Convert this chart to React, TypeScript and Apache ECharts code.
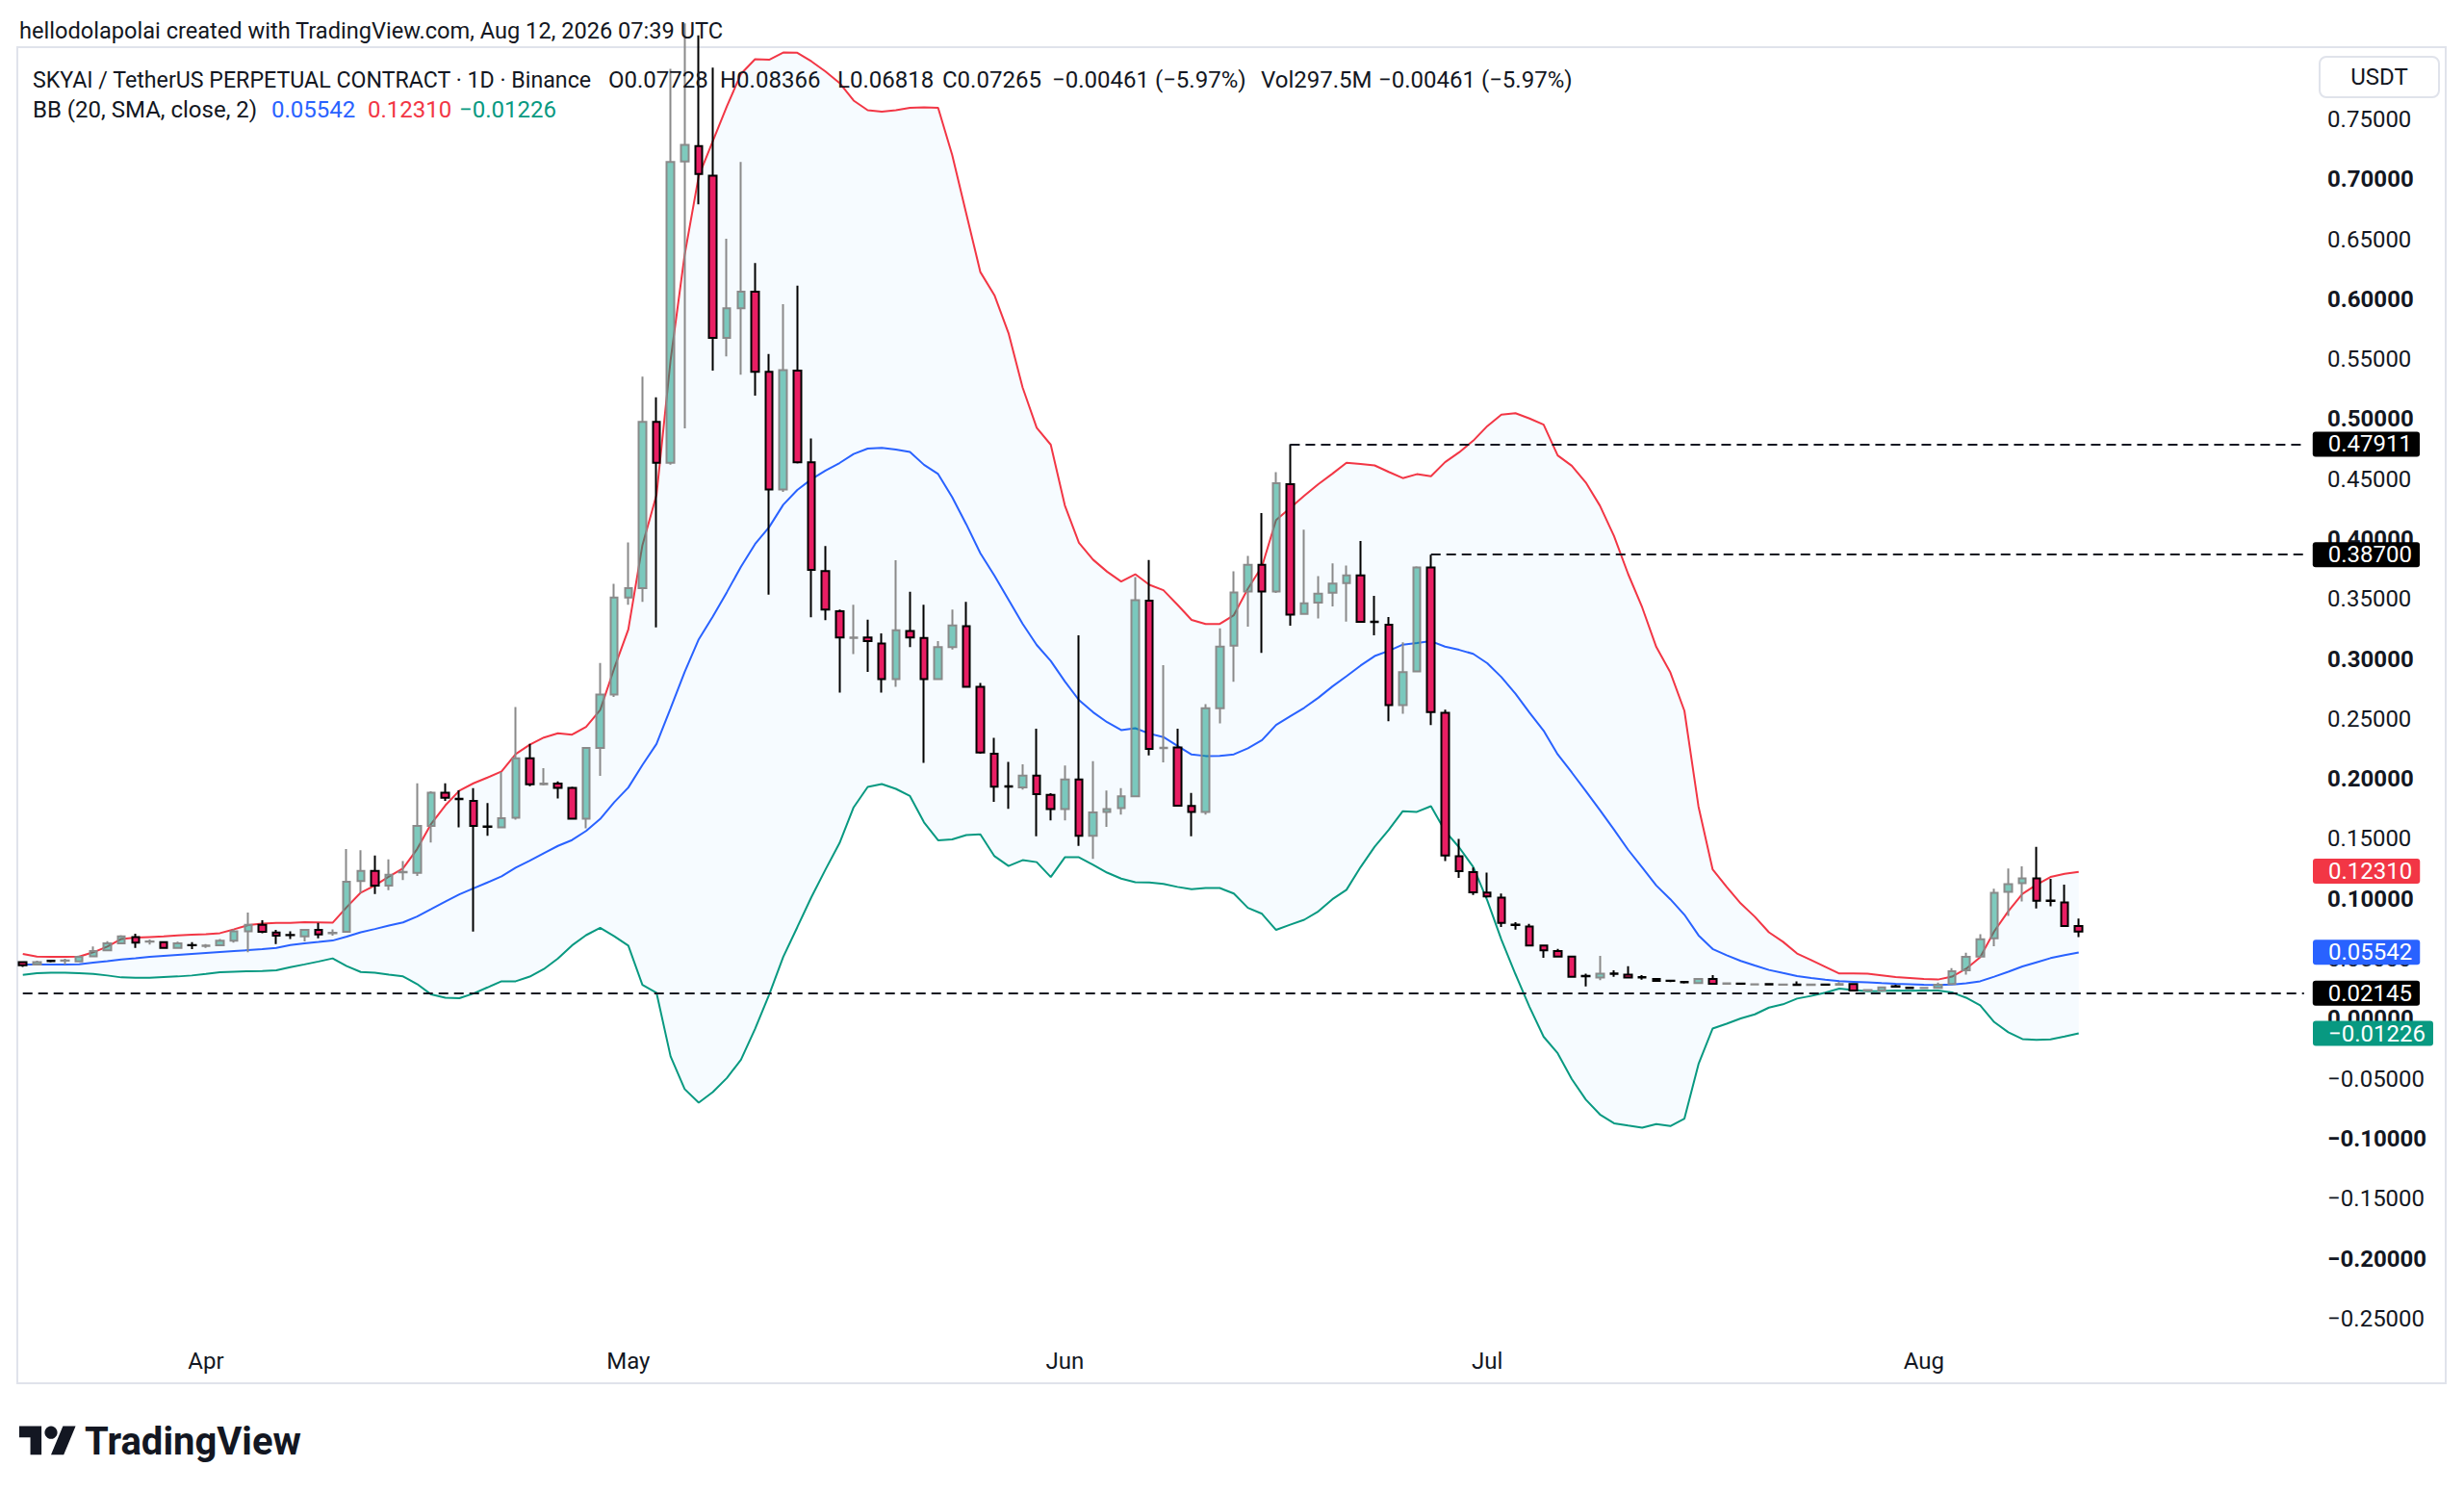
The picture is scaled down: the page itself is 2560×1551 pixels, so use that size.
import React, { useEffect, useRef } from "react";
import * as echarts from "echarts";

// ---------- DATA ----------
const START_UTC = Date.UTC(2026, 2, 19); // first candle: 2026-03-19
const SLOT_COUNT = 163; // daily slots incl. empty right margin
const monthNames = ["Jan", "Feb", "Mar", "Apr", "May", "Jun", "Jul", "Aug", "Sep", "Oct", "Nov", "Dec"];

const opens = [
  0.0473, 0.0452, 0.0485, 0.0484, 0.0479, 0.0521, 0.0570, 0.0629, 0.0682, 0.0642, 0.0639, 0.0591, 0.0615,
  0.0607, 0.0612, 0.0650, 0.0730, 0.0784, 0.0720, 0.0700, 0.0687, 0.0741, 0.0714, 0.0725, 0.1148, 0.1233, 0.1110, 0.1220,
  0.1217, 0.1608, 0.1886, 0.1835, 0.1817, 0.1605, 0.1597, 0.1677, 0.2173, 0.1955, 0.1962, 0.1926, 0.1668, 0.2258, 0.2704,
  0.3512, 0.3591, 0.4978, 0.4637, 0.7149, 0.7278, 0.7030, 0.5677, 0.5925, 0.6064, 0.5395, 0.4413, 0.5404, 0.4641, 0.3734,
  0.3398, 0.3175, 0.3179, 0.3130, 0.2833, 0.3234, 0.3175, 0.2833, 0.3100, 0.3274, 0.2768, 0.2210, 0.1940, 0.1929, 0.2028,
  0.1868, 0.1748, 0.1996, 0.1526, 0.1724, 0.1756, 0.1855, 0.3486, 0.2256, 0.2263, 0.1775, 0.1724, 0.2589, 0.3112, 0.3563,
  0.3785, 0.3563, 0.4457, 0.3376, 0.3470, 0.3553, 0.3633, 0.3697, 0.3312, 0.3286, 0.2616, 0.2896, 0.3763, 0.2551, 0.1356,
  0.1222, 0.1053, 0.1011, 0.0786, 0.0770, 0.0610, 0.0564, 0.0519, 0.0358, 0.0343, 0.0379, 0.0369, 0.0347, 0.0332, 0.0318,
  0.0307, 0.0297, 0.0332, 0.0292, 0.0294, 0.0285, 0.0289, 0.0283, 0.0285, 0.0282, 0.0285, 0.0284, 0.0289, 0.0236, 0.0236,
  0.0272, 0.0259, 0.0255, 0.0257, 0.0289, 0.0404, 0.0519, 0.0671, 0.1059, 0.1131, 0.1171, 0.0987, 0.0971, 0.07728,
];
const highs = [
  0.0479, 0.0484, 0.0490, 0.0500, 0.0527, 0.0602, 0.0647, 0.0698, 0.0709, 0.0661, 0.0647, 0.0642, 0.0639,
  0.0623, 0.0666, 0.0746, 0.0885, 0.0821, 0.0741, 0.0730, 0.0746, 0.0800, 0.0746, 0.1415, 0.1405, 0.1362, 0.1330, 0.1316,
  0.1964, 0.1897, 0.1964, 0.1905, 0.1924, 0.1798, 0.2057, 0.2600, 0.2293, 0.2090, 0.1980, 0.1936, 0.2262, 0.2966, 0.3626,
  0.3972, 0.5355, 0.5182, 0.7922, 0.8300, 0.8200, 0.7932, 0.6505, 0.7144, 0.6301, 0.5543, 0.5959, 0.6113, 0.4840, 0.3943,
  0.3412, 0.3452, 0.3328, 0.3214, 0.3824, 0.3561, 0.3452, 0.3150, 0.3412, 0.3477, 0.2800, 0.2343, 0.2143, 0.2122, 0.2418,
  0.1881, 0.2111, 0.3197, 0.2148, 0.1903, 0.1924, 0.3683, 0.3825, 0.2949, 0.2418, 0.1884, 0.2623, 0.3256, 0.3731, 0.3860,
  0.4217, 0.4559, 0.47911, 0.4078, 0.3691, 0.3798, 0.3780, 0.3985, 0.3526, 0.3350, 0.3139, 0.3774, 0.3870, 0.2578, 0.1500,
  0.1262, 0.1219, 0.1045, 0.0806, 0.0791, 0.0615, 0.0583, 0.0524, 0.0377, 0.0524, 0.0404, 0.0439, 0.0364, 0.0340, 0.0326,
  0.0316, 0.0337, 0.0364, 0.0300, 0.0300, 0.0292, 0.0291, 0.0292, 0.0311, 0.0289, 0.0289, 0.0305, 0.0297, 0.0244, 0.0265,
  0.0284, 0.0265, 0.0262, 0.0302, 0.0423, 0.0551, 0.0706, 0.1085, 0.1254, 0.1272, 0.1433, 0.1166, 0.1118, 0.08366,
];
const lows = [
  0.0433, 0.0444, 0.0470, 0.0452, 0.0473, 0.0518, 0.0564, 0.0623, 0.0591, 0.0618, 0.0586, 0.0586, 0.0580,
  0.0591, 0.0607, 0.0634, 0.0554, 0.0714, 0.0623, 0.0666, 0.0645, 0.0671, 0.0693, 0.0720, 0.1049, 0.1041, 0.1073, 0.1156,
  0.1190, 0.1469, 0.1817, 0.1597, 0.0728, 0.1525, 0.1592, 0.1661, 0.1940, 0.1945, 0.1837, 0.1665, 0.1589, 0.2025, 0.2684,
  0.3452, 0.3477, 0.3264, 0.4620, 0.4924, 0.6792, 0.5404, 0.5523, 0.5370, 0.5196, 0.3536, 0.4393, 0.4630, 0.3348, 0.3323,
  0.2719, 0.3041, 0.2892, 0.2719, 0.2768, 0.3100, 0.2134, 0.2828, 0.3080, 0.2760, 0.2210, 0.1809, 0.1751, 0.1911, 0.1521,
  0.1654, 0.1654, 0.1441, 0.1334, 0.1601, 0.1703, 0.1847, 0.2196, 0.2138, 0.1770, 0.1521, 0.1703, 0.2463, 0.2810, 0.3270,
  0.3051, 0.3550, 0.3278, 0.3371, 0.3339, 0.3438, 0.3312, 0.3305, 0.3197, 0.2482, 0.2543, 0.2888, 0.2450, 0.1315, 0.1175,
  0.1033, 0.1011, 0.0765, 0.0743, 0.0604, 0.0508, 0.0511, 0.0343, 0.0270, 0.0321, 0.0350, 0.0340, 0.0326, 0.0313, 0.0305,
  0.0294, 0.0294, 0.0284, 0.0286, 0.0284, 0.0278, 0.0282, 0.0276, 0.0278, 0.0278, 0.0280, 0.0278, 0.0230, 0.0232, 0.0233,
  0.0262, 0.0250, 0.0250, 0.0252, 0.0284, 0.0369, 0.0511, 0.0604, 0.0858, 0.0979, 0.0920, 0.0938, 0.0765, 0.06818,
];
const closes = [
  0.0447, 0.0473, 0.0481, 0.0487, 0.0516, 0.0564, 0.0629, 0.0687, 0.0634, 0.0645, 0.0591, 0.0629, 0.0612,
  0.0610, 0.0650, 0.0730, 0.0784, 0.0725, 0.0693, 0.0698, 0.0741, 0.0703, 0.0717, 0.1142, 0.1233, 0.1110, 0.1201, 0.1225,
  0.1608, 0.1886, 0.1843, 0.1830, 0.1608, 0.1600, 0.1672, 0.2173, 0.1955, 0.1962, 0.1926, 0.1668, 0.2258, 0.2704, 0.3512,
  0.3591, 0.4978, 0.4637, 0.7144, 0.7288, 0.7045, 0.5677, 0.5925, 0.6064, 0.5395, 0.4413, 0.5409, 0.4641, 0.3744, 0.3412,
  0.3179, 0.3180, 0.3150, 0.2833, 0.3239, 0.3179, 0.2833, 0.3100, 0.3279, 0.2768, 0.2220, 0.1935, 0.1935, 0.2028, 0.1873,
  0.1748, 0.1996, 0.1526, 0.1721, 0.1748, 0.1855, 0.3491, 0.2250, 0.2260, 0.1777, 0.1724, 0.2589, 0.3104, 0.3555, 0.3785,
  0.3563, 0.4466, 0.3371, 0.3464, 0.3544, 0.3630, 0.3697, 0.3310, 0.3308, 0.2616, 0.2890, 0.3763, 0.2557, 0.1361, 0.1230,
  0.1055, 0.1021, 0.0800, 0.0782, 0.0610, 0.0570, 0.0519, 0.0350, 0.0354, 0.0377, 0.0375, 0.0343, 0.0344, 0.0316, 0.0315,
  0.0303, 0.0332, 0.0292, 0.0295, 0.0291, 0.0288, 0.0286, 0.0286, 0.0282, 0.0285, 0.0283, 0.0289, 0.0236, 0.0239, 0.0262,
  0.0268, 0.0256, 0.0258, 0.0284, 0.0396, 0.0516, 0.0663, 0.1051, 0.1123, 0.1171, 0.0984, 0.0982, 0.0773, 0.07265,
];

// Bollinger band values for the first 19 days (history before the window is not visible)
const bbUpperEarly = [0.0540, 0.0519, 0.0516, 0.0516, 0.0519, 0.0554, 0.0602, 0.0666, 0.0677, 0.0682, 0.0687, 0.0695, 0.0701, 0.0706, 0.0714, 0.0746, 0.0781, 0.0794, 0.0800];
const bbBasisEarly = [0.0452, 0.0452, 0.0452, 0.0452, 0.0455, 0.0468, 0.0481, 0.0495, 0.0505, 0.0516, 0.0524, 0.0532, 0.0540, 0.0548, 0.0556, 0.0564, 0.0572, 0.0580, 0.0590];
const bbLowerEarly = [0.0366, 0.0380, 0.0385, 0.0385, 0.0380, 0.0374, 0.0361, 0.0345, 0.0342, 0.0342, 0.0348, 0.0353, 0.0361, 0.0374, 0.0388, 0.0393, 0.0396, 0.0398, 0.0404];
const BB_LENGTH = 20;
const BB_MULT = 2;

// Last indicator values and horizontal levels shown on the price scale
const bbLastBasis = 0.05542;
const bbLastUpper = 0.1231;
const bbLastLower = -0.01226;
const rayFromDates = ["2026-06-17", "2026-06-27"];
const rayLevels = [0.47911, 0.387];
const supportLevel = 0.02145;

const priceTicks = [0.75, 0.7, 0.65, 0.6, 0.55, 0.5, 0.45, 0.4, 0.35, 0.3, 0.25, 0.2, 0.15, 0.1, 0.05, 0, -0.05, -0.1, -0.15, -0.2, -0.25];

const headerText = "hellodolapolai created with TradingView.com, Aug 12, 2026 07:39 UTC";
const symbolTitle = "SKYAI / TetherUS PERPETUAL CONTRACT · 1D · Binance";
const ohlcLegend = ["O0.07728", "H0.08366", "L0.06818", "C0.07265", "−0.00461 (−5.97%)", "Vol297.5M", "−0.00461 (−5.97%)"];
const bbTitle = "BB (20, SMA, close, 2)";
const bbLegend = ["0.05542", "0.12310", "−0.01226"];

// ---------- helpers ----------
const FONT = "Roboto, 'Liberation Sans', sans-serif";
const INK = "#131722";
const C_UP = "#f23645";
const C_MID = "#2962ff";
const C_LOW = "#089981";

const fmt = (v: number) => (Math.abs(v) < 1e-9 ? 0 : v).toFixed(5).replace("-", "−");

let logoRegistered = false;
function registerLogo() {
  if (logoRegistered) return;
  echarts.graphic.registerShape(
    "tvlogo",
    echarts.graphic.extendPath("M14 22H7V11H0V4h14v18zM28 22h-8l7.5-18h8L28 22z", {})
  );
  logoRegistered = true;
}

function buildOption() {
  const categories: string[] = [];
  for (let i = 0; i < SLOT_COUNT; i++) {
    categories.push(new Date(START_UTC + i * 86400000).toISOString().slice(0, 10));
  }
  const lastCat = categories[SLOT_COUNT - 1];

  const bbUp: number[] = [];
  const bbMid: number[] = [];
  const bbLow: number[] = [];
  for (let i = 0; i < closes.length; i++) {
    if (i < BB_LENGTH - 1) {
      bbUp.push(bbUpperEarly[i]);
      bbMid.push(bbBasisEarly[i]);
      bbLow.push(bbLowerEarly[i]);
      continue;
    }
    const w = closes.slice(i - BB_LENGTH + 1, i + 1);
    const m = w.reduce((a, b) => a + b, 0) / BB_LENGTH;
    const sd = Math.sqrt(w.reduce((a, b) => a + (b - m) * (b - m), 0) / BB_LENGTH);
    bbMid.push(m);
    bbUp.push(m + BB_MULT * sd);
    bbLow.push(m - BB_MULT * sd);
  }
  const bbWidth = bbUp.map((u, i) => u - bbLow[i]);

  const candles = opens.map((o, i) => [o, closes[i], lows[i], highs[i]]);

  const dashed = { color: INK, width: 2, type: [10, 6] as any };
  const tag = (text: string, bg: string, distance: number) => ({
    show: true,
    position: "end",
    distance,
    formatter: text,
    color: "#ffffff",
    backgroundColor: bg,
    padding: [3, 8, 1, 16],
    borderRadius: 3,
    fontSize: 24,
    lineHeight: 22,
    fontFamily: FONT,
    opacity: 1,
  });
  const hidden = { color: "rgba(0,0,0,0)", width: 1, type: "solid" as any };

  const markData: any[] = [];
  rayLevels.forEach((v, k) => {
    markData.push([
      { coord: [rayFromDates[k], v], lineStyle: dashed, label: tag(fmt(v), "#000000", 9) },
      { coord: [lastCat, v], lineStyle: dashed, label: tag(fmt(v), "#000000", 9) },
    ]);
  });
  markData.push([
    { coord: [categories[0], supportLevel], lineStyle: dashed, label: tag(fmt(supportLevel), "#000000", 9) },
    { coord: [lastCat, supportLevel], lineStyle: dashed, label: tag(fmt(supportLevel), "#000000", 9) },
  ]);
  [
    [bbLastUpper, C_UP],
    [bbLastBasis, C_MID],
    [bbLastLower, C_LOW],
  ].forEach(([v, c]) => {
    markData.push([
      { coord: [lastCat, v], lineStyle: hidden, label: tag(fmt(v as number), c as string, 9) },
      { coord: [lastCat, v], x: 2394, lineStyle: hidden, label: tag(fmt(v as number), c as string, 9) },
    ]);
  });

  const txt = (text: string, x: number, y: number, size: number, color = INK, weight: any = "normal", align = "left") => ({
    type: "text",
    x,
    y,
    z: 100,
    silent: true,
    style: { text, fill: color, fontSize: size, fontFamily: FONT, fontWeight: weight, align, verticalAlign: "middle" },
  });

  const ohlcX = [632, 748, 870, 979, 1093, 1310, 1432];
  const bbX = [282, 382, 477];
  const bbColors = [C_MID, C_UP, C_LOW];

  const logoScale = 1.65;
  const logoX = 20;
  const logoY = 1475;

  return {
    animation: false,
    backgroundColor: "#ffffff",
    textStyle: { fontFamily: FONT },
    grid: { left: 16.4, top: 49, width: 2384.7, height: 1343, containLabel: false, outerBoundsMode: "none" },
    xAxis: {
      type: "category",
      data: categories,
      boundaryGap: true,
      axisLine: { show: false },
      axisTick: { show: false },
      splitLine: { show: false },
      axisLabel: {
        interval: (_idx: number, val: string) => val.slice(8) === "01",
        formatter: (val: string) => monthNames[Number(val.slice(5, 7)) - 1],
        color: INK,
        fontSize: 24,
        margin: 10,
        fontFamily: FONT,
      },
    },
    yAxis: {
      type: "value",
      position: "right",
      min: -0.26782,
      max: 0.810203,
      axisLine: { show: false },
      axisTick: { show: false },
      splitLine: { show: false },
      axisLabel: {
        customValues: priceTicks,
        margin: 17,
        align: "left",
        formatter: (v: number) => {
          const bold = Math.abs(Math.round(v * 20)) % 2 === 0;
          return `{${bold ? "b" : "n"}|${fmt(v)}}`;
        },
        rich: {
          b: { fontSize: 24, fontWeight: "bold", color: INK, fontFamily: FONT },
          n: { fontSize: 24, fontWeight: "normal", color: INK, fontFamily: FONT },
        },
      },
    },
    series: [
      {
        type: "line",
        data: bbLow,
        stack: "bb",
        stackStrategy: "all",
        symbol: "none",
        silent: true,
        lineStyle: { opacity: 0, width: 0 },
        z: 1,
      },
      {
        type: "line",
        data: bbWidth,
        stack: "bb",
        stackStrategy: "all",
        symbol: "none",
        silent: true,
        lineStyle: { opacity: 0, width: 0 },
        areaStyle: { color: "rgba(33,150,243,0.055)" },
        z: 1,
      },
      { type: "line", data: bbUp, symbol: "none", silent: true, lineStyle: { color: C_UP, width: 2 }, z: 2 },
      { type: "line", data: bbMid, symbol: "none", silent: true, lineStyle: { color: C_MID, width: 2 }, z: 2 },
      { type: "line", data: bbLow, symbol: "none", silent: true, lineStyle: { color: C_LOW, width: 2 }, z: 2 },
      {
        type: "candlestick",
        data: candles,
        barWidth: 8,
        silent: true,
        z: 3,
        itemStyle: {
          color: "rgba(8,153,129,0.52)",
          color0: "#e91e63",
          borderColor: "#8a8a8a",
          borderColor0: "#000000",
          borderWidth: 2,
        },
      },
      {
        type: "line",
        data: categories.map(() => null),
        symbol: "none",
        silent: true,
        clip: false,
        z: 5,
        lineStyle: { opacity: 0 },
        markLine: { symbol: ["none", "none"], silent: true, animation: false, data: markData },
      },
    ],
    graphic: [
      {
        type: "rect",
        z: 0,
        silent: true,
        shape: { x: 18, y: 49, width: 2523, height: 1388 },
        style: { fill: "none", stroke: "#e0e3eb", lineWidth: 2 },
      },
      {
        type: "rect",
        z: 100,
        silent: true,
        shape: { x: 2410, y: 59, width: 124, height: 42, r: 7 },
        style: { fill: "#ffffff", stroke: "#e0e3eb", lineWidth: 2 },
      },
      txt("USDT", 2472, 80, 24, INK, "normal", "center"),
      txt(headerText, 20, 32, 23.6),
      txt(symbolTitle, 34, 83, 23.2),
      ...ohlcLegend.map((s, i) => txt(s, ohlcX[i], 83, 24)),
      txt(bbTitle, 34, 114, 24),
      ...bbLegend.map((s, i) => txt(s, bbX[i], 114, 24, bbColors[i])),
      {
        type: "tvlogo",
        x: logoX,
        y: logoY,
        scaleX: logoScale,
        scaleY: logoScale,
        z: 100,
        silent: true,
        style: { fill: INK },
      },
      {
        type: "circle",
        z: 100,
        silent: true,
        shape: { cx: logoX + 20 * logoScale, cy: logoY + 8 * logoScale, r: 4 * logoScale },
        style: { fill: INK },
      },
      txt("TradingView", 88, 1497, 40, INK, "bold"),
    ],
  };
}

export default function App() {
  const ref = useRef<HTMLDivElement>(null);
  useEffect(() => {
    if (!ref.current) return;
    registerLogo();
    const chart = echarts.init(ref.current, undefined, { renderer: "svg" });
    chart.setOption(buildOption() as any);
    return () => chart.dispose();
  }, []);
  return (
    <div
      ref={ref}
      style={{ position: "absolute", left: 0, top: 0, width: 2560, height: 1551, background: "#ffffff" }}
    />
  );
}
